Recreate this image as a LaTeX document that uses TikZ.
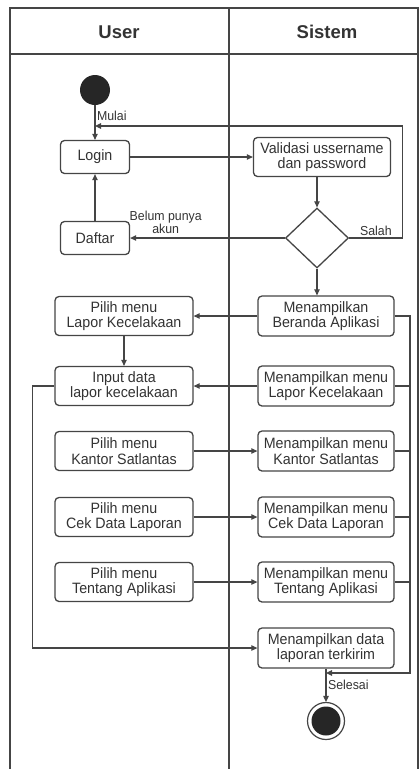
\documentclass[tikz,border=0pt]{standalone}
\usepackage{fontspec}
\setmainfont{Liberation Sans}[FakeStretch=0.95]
\newfontfamily\headfont{Liberation Sans}
\usetikzlibrary{arrows.meta, shapes.geometric}

\definecolor{garis}{HTML}{454545}
\definecolor{teks}{HTML}{333333}

\begin{document}
\begin{tikzpicture}[x=1pt, y=-1pt, % 1pt per pixel, y going down
				aksi/.style={draw=garis, line width=1.3pt, rounded corners=4pt, fill=white, text=teks,
					align=center, inner sep=0pt, minimum width=138pt, minimum height=39pt,
					font=\fontsize{15}{15.5}\selectfont},
				alur/.style={draw=garis, line width=1.1pt, -{Triangle[length=6pt, width=5.5pt]}},
				hubung/.style={draw=garis, line width=1.1pt},
				ket/.style={text=teks, align=center, inner sep=1.5pt, font=\fontsize{13}{13}\selectfont}]
				
				% Size of the picture and of the lanes
				\def\lebar{418}
				\def\tinggi{769}
				\def\batas{229}
				\useasboundingbox (0,0) rectangle (420,\tinggi);
				
				% Swimlanes
				\draw[line width=1.6pt, draw=garis] (10,\tinggi) -- (10,8) -- (\lebar,8) -- (\lebar,\tinggi);
				\draw[line width=1.6pt, draw=garis] (10,54) -- (\lebar,54);
				\draw[line width=1.6pt, draw=garis] (\batas,8) -- (\batas,\tinggi);
				\node[text=teks, font=\headfont\fontsize{18.5}{18.5}\bfseries] (user) at (119,32) {User};
				\node[text=teks, font=\headfont\fontsize{18.5}{18.5}\bfseries] (sistem) at (327,32) {Sistem};
				
				% Start and end
				\node[circle, fill=black!85, minimum size=30pt, inner sep=0pt] (mulai) at (95,90) {};
				\node[circle, draw=garis, line width=1.2pt, fill=white, minimum size=37pt, inner sep=0pt] (selesai) at (326,721) {};
				\node[circle, fill=black!85, minimum size=29pt, inner sep=0pt] (selesaiisi) at (selesai) {};
				
				% User lane
				\node[aksi, minimum width=69pt, minimum height=33pt] (login) at (95,157) {Login};
				\node[aksi, minimum width=69pt, minimum height=33pt] (daftar) at (95,238) {Daftar};
				\node[aksi] (pilihlapor) at (124,316) {Pilih menu\\Lapor Kecelakaan};
				\node[aksi] (input) at (124,386) {Input data\\lapor kecelakaan};
				\node[aksi] (pilihkantor) at (124,451) {Pilih menu\\Kantor Satlantas};
				\node[aksi] (pilihcek) at (124,517) {Pilih menu\\Cek Data Laporan};
				\node[aksi] (pilihtentang) at (124,582) {Pilih menu\\Tentang Aplikasi};
				
				% Sistem lane
				\node[aksi, minimum width=137pt] (validasi) at (322,157) {Validasi ussername\\dan password};
				\node[diamond, draw=garis, line width=1.3pt, fill=white, minimum width=63pt, minimum height=60pt, inner sep=0pt] (cek) at (317,238) {};
				\node[aksi, minimum width=136pt, minimum height=40pt] (beranda) at (326,316) {Menampilkan\\Beranda Aplikasi};
				\node[aksi, minimum width=136pt, minimum height=40pt] (tampillapor) at (326,386) {Menampilkan menu\\Lapor Kecelakaan};
				\node[aksi, minimum width=136pt, minimum height=40pt] (tampilkantor) at (326,451) {Menampilkan menu\\Kantor Satlantas};
				\node[aksi, minimum width=136pt, minimum height=40pt] (tampilcek) at (326,517) {Menampilkan menu\\Cek Data Laporan};
				\node[aksi, minimum width=136pt, minimum height=40pt] (tampiltentang) at (326,582) {Menampilkan menu\\Tentang Aplikasi};
				\node[aksi, minimum width=136pt, minimum height=40pt] (terkirim) at (326,648) {Menampilkan data\\laporan terkirim};
				
				% Points where lines meet
				\coordinate (balik) at (95,126);
				\coordinate (rel) at (410,316);
				\coordinate (gabung) at (326,673);
				
				% Flow
				\draw[alur] (mulai) -- (login) node[ket, pos=0.3, right] {Mulai};
				\draw[alur] (login) -- (validasi);
				\draw[alur] (cek.north |- validasi.south) -- (cek.north);
				\draw[alur] (cek.east) -- ++(53.5,0) node[ket, midway, above] {Salah} |- (balik);
				\draw[alur] (cek.west) -- (daftar.east) node[ket, pos=0.77, above, yshift=2pt] {Belum punya\\akun};
				\draw[alur] (daftar) -- (login);
				\draw[alur] (cek.south) -- (cek.south |- beranda.north);
				\draw[alur] (beranda) -- (pilihlapor);
				\draw[alur] (pilihlapor) -- (input);
				\draw[alur] (tampillapor) -- (input);
				\draw[alur] (pilihkantor) -- (tampilkantor);
				\draw[alur] (pilihcek) -- (tampilcek);
				\draw[alur] (pilihtentang) -- (tampiltentang);
				\draw[alur] (input.west) -- ++(-22,0) |- (terkirim.west);
				
				% Back to the end from every menu
				\draw[alur] (beranda.east) -- (rel) |- (gabung);
				\foreach \n in {tampillapor, tampilkantor, tampilcek, tampiltentang}
				\draw[hubung] (\n.east) -- (\n.east -| rel);
				\draw[alur] (terkirim) -- (selesai) node[ket, pos=0.5, right] {Selesai};
				
			\end{tikzpicture}
\end{document}
